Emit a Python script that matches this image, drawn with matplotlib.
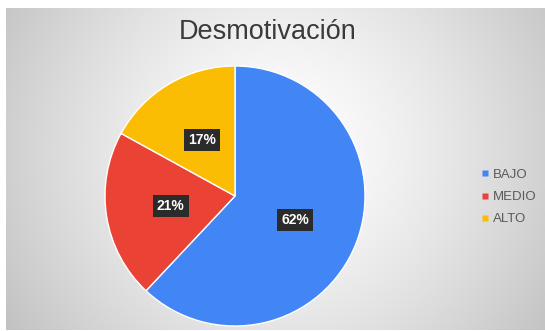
import numpy as np
import matplotlib
matplotlib.use("Agg")
import matplotlib.pyplot as plt
from matplotlib.lines import Line2D

# Data
categories = ["BAJO", "MEDIO", "ALTO"]
shares = [62, 21, 17]
colors = ["#4285F4", "#EA4335", "#FBBC04"]
title = "Desmotivación"

plt.rcParams["font.family"] = ["Liberation Sans", "DejaVu Sans"]

W, H = 545, 331
fig = plt.figure(figsize=(W / 100, H / 100), dpi=100, facecolor="white")

# Radial grey gradient panel behind the chart
bg = fig.add_axes([6 / W, 1 / H, (W - 6) / W, 322 / H])
bg.set_axis_off()
gx, gy = np.meshgrid(np.arange(6, W), np.arange(8, 330))
d = np.hypot(gx - 280, gy - 150) / 330.0
val = np.clip(255 - 62 * d ** 1.4, 0, 255) / 255.0
img = np.dstack([val, val, val])
bg.imshow(img, aspect="auto", extent=(0, 1, 0, 1), origin="upper")
bg.set_xlim(0, 1)
bg.set_ylim(0, 1)

# Pie chart
cx, cy, r = 235, 196, 130
ax = fig.add_axes([(cx - r) / W, (H - cy - r) / H, 2 * r / W, 2 * r / H])
ax.set_axis_off()
wedges, texts, autotexts = ax.pie(
    shares,
    colors=colors,
    startangle=90,
    counterclock=False,
    radius=1,
    autopct=lambda p: f"{p:.0f}%",
    pctdistance=0.5,
    wedgeprops=dict(edgecolor="white", linewidth=1.0),
    textprops=dict(color="white", fontsize=10, fontweight="bold"),
)
for t in autotexts:
    t.set_bbox(dict(facecolor="#2b2b2b", edgecolor="none", pad=3))
ax.set_xlim(-1, 1)
ax.set_ylim(-1, 1)

# Title
fig.text(268 / W, 1 - 32 / H, title, ha="center", va="center",
         fontsize=19.5, color="#3a3a3a")

# Legend
handles = [Line2D([0], [0], marker="s", linestyle="none", markersize=4,
                  markerfacecolor=c, markeredgecolor="none") for c in colors]
fig.legend(handles, categories, loc="center left",
           bbox_to_anchor=(476 / W, 1 - 197 / H), frameon=False,
           handlelength=0.6, handletextpad=0.3, labelspacing=0.75,
           fontsize=9.5, labelcolor="#595959", borderaxespad=0)

fig.savefig("out.png", dpi=100, facecolor="white")
